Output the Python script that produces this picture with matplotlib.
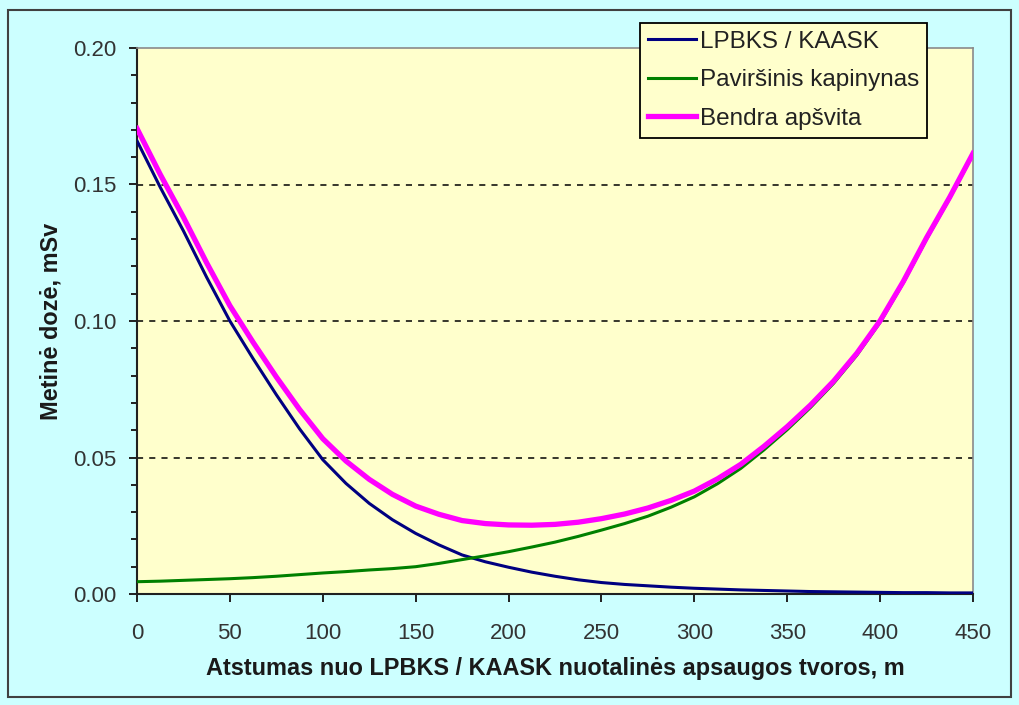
import matplotlib
matplotlib.use("Agg")
import matplotlib.pyplot as plt
from matplotlib.patches import Rectangle
from matplotlib.ticker import MultipleLocator, FormatStrFormatter

# ---- data ----
distance = [0, 12.5, 25, 37.5, 50, 62.5, 75, 87.5, 100, 112.5, 125, 137.5,
            150, 162.5, 175, 187.5, 200, 212.5, 225, 237.5, 250, 262.5, 275,
            287.5, 300, 312.5, 325, 337.5, 350, 362.5, 375, 387.5, 400,
            412.5, 425, 437.5, 450]
lpbks = [0.166, 0.149, 0.133, 0.116, 0.100, 0.0862, 0.0730, 0.0605, 0.0492,
         0.0405, 0.0332, 0.0272, 0.0222, 0.0180, 0.0143, 0.0118, 0.0098,
         0.0080, 0.0065, 0.0052, 0.0042, 0.0035, 0.0030, 0.0025, 0.0021,
         0.0018, 0.0015, 0.0013, 0.0011, 0.0009, 0.0008, 0.0007, 0.0006,
         0.0005, 0.0005, 0.0004, 0.0004]
surface = [0.0045, 0.0047, 0.0050, 0.0053, 0.0056, 0.0060, 0.0065, 0.0071,
           0.0077, 0.0082, 0.0088, 0.0093, 0.0100, 0.0112, 0.0126, 0.0140,
           0.0155, 0.0172, 0.0190, 0.0211, 0.0234, 0.0258, 0.0285, 0.0318,
           0.0356, 0.0404, 0.0460, 0.0528, 0.0602, 0.0683, 0.0772, 0.0875,
           0.0995, 0.1140, 0.1300, 0.1450, 0.1610]
total = [0.1705, 0.1537, 0.1380, 0.1213, 0.1056, 0.0922, 0.0795, 0.0676,
         0.0569, 0.0487, 0.0420, 0.0365, 0.0322, 0.0292, 0.0269, 0.0258,
         0.0253, 0.0252, 0.0255, 0.0263, 0.0276, 0.0293, 0.0315, 0.0343,
         0.0377, 0.0422, 0.0475, 0.0541, 0.0613, 0.0692, 0.0780, 0.0882,
         0.1001, 0.1145, 0.1305, 0.1454, 0.1614]

series_names = ["LPBKS / KAASK", "Paviršinis kapinynas", "Bendra apšvita"]
x_label = "Atstumas nuo LPBKS / KAASK nuotalinės apsaugos tvoros, m"
y_label = "Metinė dozė, mSv"

plt.rcParams['font.family'] = ['Liberation Sans', 'DejaVu Sans']

W, H = 1019, 705
fig = plt.figure(figsize=(W / 100, H / 100), dpi=100)
fig.patch.set_facecolor('#CCFFFF')

# outer border
fig.patches.append(Rectangle((8 / W, 1 - 697 / H), (1011 - 8) / W, (697 - 10) / H,
                             transform=fig.transFigure, fill=False,
                             edgecolor='#404040', linewidth=1.5, zorder=0))

ax = fig.add_axes([137 / W, 1 - 594 / H, (973 - 137) / W, (594 - 48) / H])
ax.set_facecolor('#FFFFCC')

ax.plot(distance, lpbks, color='#000080', lw=2.2, label=series_names[0], zorder=3)
ax.plot(distance, surface, color='#008000', lw=2.2, label=series_names[1], zorder=3)
ax.plot(distance, total, color='#FF00FF', lw=3.8, label=series_names[2], zorder=4)

ax.set_xlim(0, 450)
ax.set_ylim(0, 0.20)
ax.xaxis.set_major_locator(MultipleLocator(50))
ax.yaxis.set_major_locator(MultipleLocator(0.05))
ax.yaxis.set_minor_locator(MultipleLocator(0.01))
ax.yaxis.set_major_formatter(FormatStrFormatter('%.2f'))

for yv in (0.05, 0.10, 0.15):
    ax.axhline(yv, color='black', lw=1.1, ls=(0, (4, 4)), zorder=1)

for s in ('top', 'right'):
    ax.spines[s].set_color('#8a8a8a')
    ax.spines[s].set_linewidth(1.2)
for s in ('left', 'bottom'):
    ax.spines[s].set_color('#202020')
    ax.spines[s].set_linewidth(1.5)

ax.tick_params(axis='both', which='major', direction='out', length=6, width=1.4,
               color='#202020', labelsize=16, labelcolor='#333333', pad=8.5)
ax.tick_params(axis='x', which='major', pad=15)
ax.tick_params(axis='y', which='minor', direction='out', length=4, width=1.4,
               color='#202020')

ax.set_xlabel(x_label, fontsize=16.9, fontweight='bold', color='#1a1a1a', labelpad=9)
ax.set_ylabel(y_label, fontsize=16.9, fontweight='bold', color='#1a1a1a', labelpad=8)

leg = ax.legend(loc='upper right', bbox_to_anchor=(927 / W, 1 - 23 / H),
                bbox_transform=fig.transFigure, borderaxespad=0, frameon=True,
                fancybox=False, shadow=False, fontsize=17.5, handlelength=2.0,
                handletextpad=0.15, labelspacing=0.68, borderpad=0.32)
leg.get_frame().set_facecolor('#FFFFCC')
leg.get_frame().set_edgecolor('black')
leg.get_frame().set_linewidth(1.3)
leg.get_frame().set_alpha(1)
leg.set_zorder(5)
for t in leg.get_texts():
    t.set_color('#222222')

fig.savefig('out.png', dpi=100, facecolor=fig.get_facecolor())
